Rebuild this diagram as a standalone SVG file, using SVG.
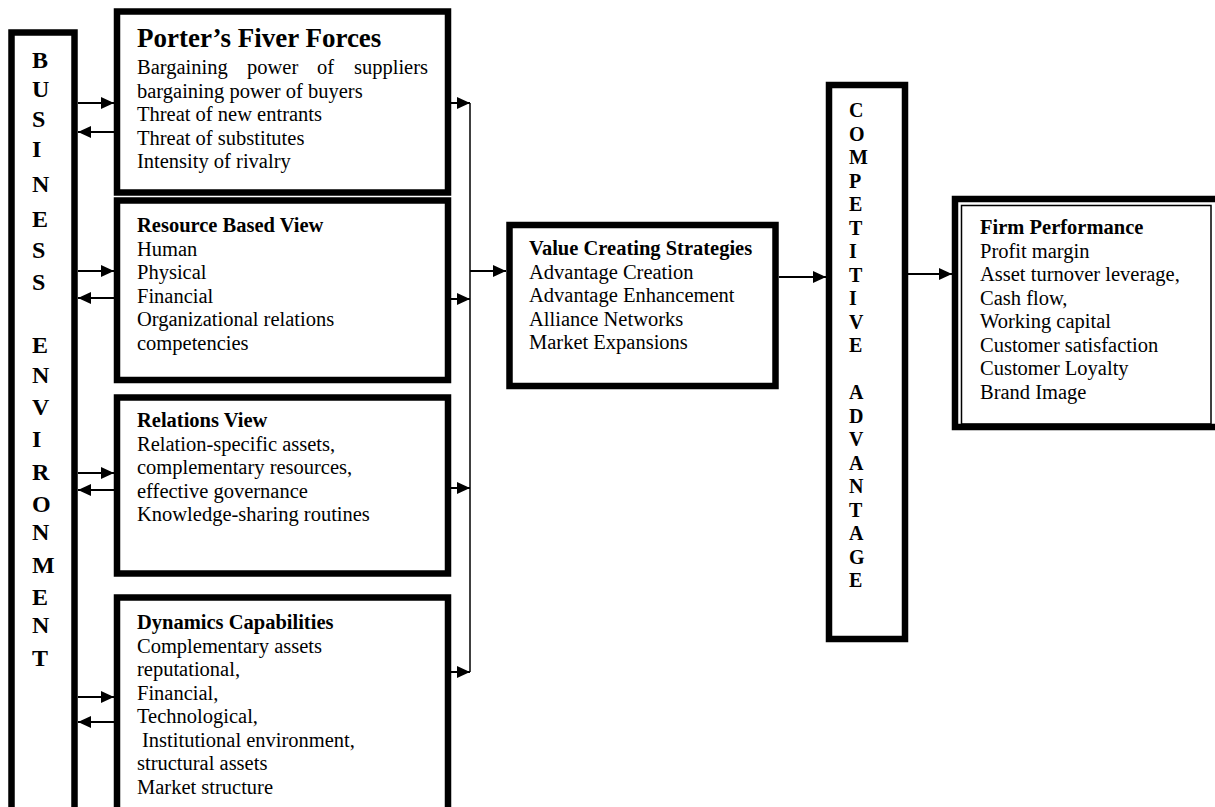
<svg xmlns="http://www.w3.org/2000/svg" width="1215" height="807" viewBox="0 0 1215 807">
<style>
.box{fill:#fff;stroke:#000;stroke-width:6.5}
.t{font-family:"Liberation Serif","Times New Roman",serif;font-size:20.5px;fill:#000}
.b{font-weight:bold}
.big{font-family:"Liberation Serif","Times New Roman",serif;font-size:27px;font-weight:bold;fill:#000}
.v{font-family:"Liberation Serif","Times New Roman",serif;font-size:24px;font-weight:bold;fill:#000}
.c{font-family:"Liberation Serif","Times New Roman",serif;font-size:20px;font-weight:bold;fill:#000}
.ln{stroke:#000;stroke-width:2;fill:none}
.thin{stroke:#000;stroke-width:1.5;fill:none}
</style>
<defs>
<marker id="ah" markerUnits="userSpaceOnUse" markerWidth="13" markerHeight="12" refX="13" refY="6" orient="auto">
<path d="M0,0 L13,6 L0,12 z" fill="#000"/>
</marker>
</defs>
<rect width="1215" height="807" fill="#fff"/>

<g id="business-environment">
<rect class="box" x="11.5" y="32.5" width="63" height="800" stroke-width="7"/>
<text class="v" x="32" y="68">B</text>
<text class="v" x="32" y="97">U</text>
<text class="v" x="32" y="127">S</text>
<text class="v" x="32" y="157">I</text>
<text class="v" x="32" y="192">N</text>
<text class="v" x="32" y="227">E</text>
<text class="v" x="32" y="258">S</text>
<text class="v" x="32" y="290">S</text>
<text class="v" x="32" y="353">E</text>
<text class="v" x="32" y="383">N</text>
<text class="v" x="32" y="415">V</text>
<text class="v" x="32" y="447">I</text>
<text class="v" x="32" y="480">R</text>
<text class="v" x="32" y="512">O</text>
<text class="v" x="32" y="540">N</text>
<text class="v" x="32" y="573">M</text>
<text class="v" x="32" y="605">E</text>
<text class="v" x="32" y="633">N</text>
<text class="v" x="32" y="666">T</text>
</g>

<g id="porter">
<rect class="box" x="117" y="11.5" width="331" height="181"/>
<text class="big" x="137" y="47">Porter’s Fiver Forces</text>
<text class="t" y="74"><tspan x="137">Bargaining</tspan><tspan x="247">power</tspan><tspan x="317">of</tspan><tspan x="354">suppliers</tspan></text>
<text class="t" x="137" y="97.5">bargaining power of buyers</text>
<text class="t" x="137" y="121">Threat of new entrants</text>
<text class="t" x="137" y="144.5">Threat of substitutes</text>
<text class="t" x="137" y="168">Intensity of rivalry</text>
</g>

<g id="resource-based-view">
<rect class="box" x="117" y="200.5" width="331" height="179.5"/>
<text class="t b" x="137" y="232">Resource Based View</text>
<text class="t" x="137" y="255.5">Human</text>
<text class="t" x="137" y="279">Physical</text>
<text class="t" x="137" y="302.5">Financial</text>
<text class="t" x="137" y="326">Organizational relations</text>
<text class="t" x="137" y="349.5">competencies</text>
</g>

<g id="relations-view">
<rect class="box" x="117" y="397.5" width="331" height="176"/>
<text class="t b" x="137" y="427">Relations View</text>
<text class="t" x="137" y="450.5">Relation-specific assets,</text>
<text class="t" x="137" y="474">complementary resources,</text>
<text class="t" x="137" y="497.5">effective governance</text>
<text class="t" x="137" y="521">Knowledge-sharing routines</text>
</g>

<g id="dynamic-capabilities">
<rect class="box" x="117" y="597.5" width="331" height="230"/>
<text class="t b" x="137" y="629">Dynamics Capabilities</text>
<text class="t" x="137" y="652.5">Complementary assets</text>
<text class="t" x="137" y="676">reputational,</text>
<text class="t" x="137" y="699.5">Financial,</text>
<text class="t" x="137" y="723">Technological,</text>
<text class="t" x="142" y="746.5">Institutional environment,</text>
<text class="t" x="137" y="770">structural assets</text>
<text class="t" x="137" y="793.5">Market structure</text>
</g>

<g id="value-creating-strategies">
<rect class="box" x="509.5" y="225" width="266" height="161"/>
<text class="t b" x="529" y="255">Value Creating Strategies</text>
<text class="t" x="529" y="278.5">Advantage Creation</text>
<text class="t" x="529" y="302">Advantage Enhancement</text>
<text class="t" x="529" y="325.5">Alliance Networks</text>
<text class="t" x="529" y="349">Market Expansions</text>
</g>

<g id="competitive-advantage">
<rect class="box" x="829" y="85" width="76" height="554" stroke-width="6"/>
<text class="c" x="849" y="117">C</text>
<text class="c" x="849" y="140.5">O</text>
<text class="c" x="849" y="164">M</text>
<text class="c" x="849" y="187.5">P</text>
<text class="c" x="849" y="211">E</text>
<text class="c" x="849" y="234.5">T</text>
<text class="c" x="849" y="258">I</text>
<text class="c" x="849" y="281.5">T</text>
<text class="c" x="849" y="305">I</text>
<text class="c" x="849" y="328.5">V</text>
<text class="c" x="849" y="352">E</text>
<text class="c" x="849" y="399">A</text>
<text class="c" x="849" y="422.5">D</text>
<text class="c" x="849" y="446">V</text>
<text class="c" x="849" y="469.5">A</text>
<text class="c" x="849" y="493">N</text>
<text class="c" x="849" y="516.5">T</text>
<text class="c" x="849" y="540">A</text>
<text class="c" x="849" y="563.5">G</text>
<text class="c" x="849" y="587">E</text>
</g>

<g id="firm-performance">
<rect class="box" x="955" y="199" width="270" height="228" stroke-width="6"/>
<rect x="961.5" y="205.5" width="249.5" height="218.5" fill="none" stroke="#000" stroke-width="1.5"/>
<text class="t b" x="980" y="234">Firm Performance</text>
<text class="t" x="980" y="257.5">Profit margin</text>
<text class="t" x="980" y="281">Asset turnover leverage,</text>
<text class="t" x="980" y="304.5">Cash flow,</text>
<text class="t" x="980" y="328">Working capital</text>
<text class="t" x="980" y="351.5">Customer satisfaction</text>
<text class="t" x="980" y="375">Customer Loyalty</text>
<text class="t" x="980" y="398.5">Brand Image</text>
</g>

<g id="connectors">
<line class="ln" x1="78" y1="103" x2="114" y2="103" marker-end="url(#ah)"/>
<line class="ln" x1="114" y1="132" x2="78" y2="132" marker-end="url(#ah)"/>
<line class="ln" x1="78" y1="271" x2="114" y2="271" marker-end="url(#ah)"/>
<line class="ln" x1="114" y1="298" x2="78" y2="298" marker-end="url(#ah)"/>
<line class="ln" x1="78" y1="473" x2="114" y2="473" marker-end="url(#ah)"/>
<line class="ln" x1="114" y1="490" x2="78" y2="490" marker-end="url(#ah)"/>
<line class="ln" x1="78" y1="697" x2="114" y2="697" marker-end="url(#ah)"/>
<line class="ln" x1="114" y1="722" x2="78" y2="722" marker-end="url(#ah)"/>
<line class="ln" x1="451" y1="103" x2="470" y2="103" marker-end="url(#ah)"/>
<line class="ln" x1="451" y1="299" x2="470" y2="299" marker-end="url(#ah)"/>
<line class="ln" x1="451" y1="488" x2="470" y2="488" marker-end="url(#ah)"/>
<line class="ln" x1="451" y1="672" x2="470" y2="672" marker-end="url(#ah)"/>
<line class="thin" x1="470" y1="103" x2="470" y2="672"/>
<line class="ln" x1="470" y1="271" x2="506" y2="271" marker-end="url(#ah)"/>
<line class="ln" x1="779" y1="277" x2="826" y2="277" marker-end="url(#ah)"/>
<line class="ln" x1="908" y1="274" x2="952" y2="274" marker-end="url(#ah)"/>
</g>
</svg>
